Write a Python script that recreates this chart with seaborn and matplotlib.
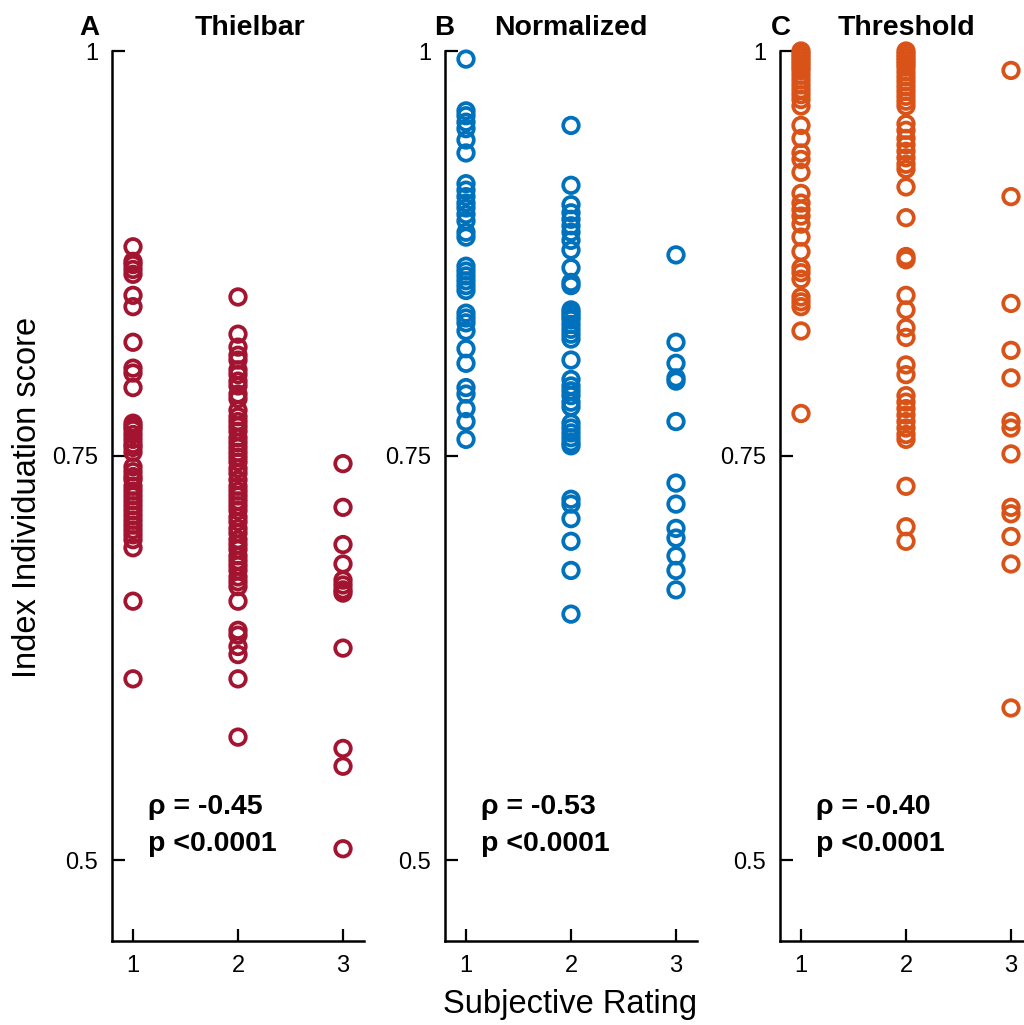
import numpy as np
import pandas as pd
import matplotlib
matplotlib.use('Agg')
import matplotlib.pyplot as plt
import seaborn as sns

# ── data ─────────────────────────────────────────────────────────────────────
thielbar_r1 = [0.879, 0.870, 0.868, 0.865, 0.862, 0.849, 0.842, 0.820, 0.804, 0.801,
               0.792, 0.770, 0.768, 0.766, 0.763, 0.760, 0.757, 0.755, 0.752, 0.743,
               0.740, 0.737, 0.735, 0.731, 0.728, 0.725, 0.722, 0.719, 0.716, 0.713,
               0.710, 0.707, 0.704, 0.701, 0.698, 0.693, 0.660, 0.612]
thielbar_r2 = [0.848, 0.825, 0.817, 0.812, 0.809, 0.803, 0.800, 0.796, 0.793, 0.788,
               0.785, 0.778, 0.774, 0.771, 0.768, 0.765, 0.761, 0.758, 0.755, 0.752,
               0.749, 0.746, 0.742, 0.739, 0.735, 0.731, 0.728, 0.725, 0.722, 0.719,
               0.716, 0.712, 0.709, 0.705, 0.702, 0.698, 0.695, 0.692, 0.688, 0.685,
               0.682, 0.679, 0.675, 0.672, 0.669, 0.660, 0.642, 0.639, 0.632, 0.627,
               0.612, 0.576]
thielbar_r3 = [0.745, 0.718, 0.695, 0.683, 0.673, 0.670, 0.667, 0.665, 0.631, 0.569,
               0.558, 0.507]

normalized_r1 = [0.995, 0.963, 0.960, 0.956, 0.952, 0.945, 0.937, 0.918, 0.914, 0.910,
                 0.906, 0.903, 0.899, 0.895, 0.888, 0.885, 0.867, 0.864, 0.861, 0.858,
                 0.855, 0.852, 0.838, 0.835, 0.832, 0.827, 0.816, 0.807, 0.792, 0.788,
                 0.779, 0.771, 0.760]
normalized_r2 = [0.954, 0.917, 0.905, 0.900, 0.896, 0.892, 0.888, 0.883, 0.877, 0.866,
                 0.857, 0.855, 0.840, 0.838, 0.836, 0.834, 0.831, 0.828, 0.825, 0.822,
                 0.809, 0.797, 0.793, 0.790, 0.787, 0.783, 0.780, 0.770, 0.767, 0.764,
                 0.761, 0.758, 0.756, 0.723, 0.720, 0.711, 0.697, 0.679, 0.652]
normalized_r3 = [0.874, 0.820, 0.807, 0.798, 0.796, 0.771, 0.733, 0.720, 0.705, 0.699,
                 0.688, 0.679, 0.667]

threshold_r1 = [1.000, 0.998, 0.996, 0.994, 0.992, 0.990, 0.988, 0.985, 0.982, 0.979,
                0.976, 0.973, 0.970, 0.966, 0.954, 0.946, 0.937, 0.933, 0.925, 0.912,
                0.906, 0.902, 0.898, 0.893, 0.885, 0.876, 0.866, 0.863, 0.859, 0.848,
                0.845, 0.842, 0.827, 0.776]
threshold_r2 = [1.000, 0.998, 0.996, 0.994, 0.992, 0.990, 0.987, 0.984, 0.981, 0.978,
                0.975, 0.972, 0.969, 0.966, 0.955, 0.951, 0.946, 0.942, 0.938, 0.934,
                0.930, 0.927, 0.916, 0.897, 0.873, 0.871, 0.849, 0.840, 0.829, 0.823,
                0.806, 0.800, 0.787, 0.783, 0.779, 0.775, 0.771, 0.767, 0.763, 0.760,
                0.731, 0.706, 0.697]
threshold_r3 = [0.988, 0.910, 0.844, 0.815, 0.798, 0.771, 0.767, 0.751, 0.718, 0.714,
                0.700, 0.683, 0.594]

methods = ['Thielbar', 'Normalized', 'Threshold']
panel_letters = ['A', 'B', 'C']
rho_text = ['ρ = -0.45', 'ρ = -0.53', 'ρ = -0.40']
p_text = ['p <0.0001', 'p <0.0001', 'p <0.0001']
colors = ['#A2142F', '#0072BD', '#D95319']

series = {
    'Thielbar': [thielbar_r1, thielbar_r2, thielbar_r3],
    'Normalized': [normalized_r1, normalized_r2, normalized_r3],
    'Threshold': [threshold_r1, threshold_r2, threshold_r3],
}
rows = []
for m in methods:
    for rating, vals in zip([1, 2, 3], series[m]):
        rows += [{'method': m, 'rating': rating, 'score': v} for v in vals]
df = pd.DataFrame(rows)

# ── figure ───────────────────────────────────────────────────────────────────
sns.set_style('ticks')
plt.rcParams['font.family'] = ['Liberation Sans', 'DejaVu Sans']
plt.rcParams['text.color'] = 'black'
plt.rcParams['axes.labelcolor'] = 'black'

fig = plt.figure(figsize=(10.24, 10.25), dpi=100)
lefts = [112 / 1024, 445 / 1024, 780 / 1024]
bottom, height, width = 84 / 1025, 890 / 1025, 252 / 1024
letter_x = [79 / 1024, 434 / 1024, 771 / 1024]
title_x = [250 / 1024, 571 / 1024, 906 / 1024]
top_y = 1 - 28 / 1025

for i, m in enumerate(methods):
    ax = fig.add_axes([lefts[i], bottom, width, height])
    sub = df[df['method'] == m]
    sns.scatterplot(data=sub, x='rating', y='score', ax=ax, marker='o', s=125,
                    facecolors='none', edgecolor=colors[i], linewidth=2.7,
                    clip_on=False, legend=False)
    ax.set_xlim(0.8, 3.2)
    ax.set_ylim(0.45, 1.0)
    ax.set_xticks([1, 2, 3])
    ax.set_xticklabels(['1', '2', '3'])
    ax.set_yticks([0.5, 0.75, 1.0])
    ax.set_yticklabels(['0.5', '0.75', '1'])
    ax.tick_params(direction='in', length=9, width=1.6, labelsize=17, pad=10,
                   colors='black')
    for side in ['top', 'right']:
        ax.spines[side].set_visible(False)
    for side in ['left', 'bottom']:
        ax.spines[side].set_linewidth(1.8)
        ax.spines[side].set_color('black')
    ax.set_xlabel('')
    ax.set_ylabel('')
    fig.text(title_x[i], top_y, m, ha='center', va='center',
             fontsize=20.5, fontweight='bold')
    fig.text(letter_x[i], top_y, panel_letters[i], ha='left', va='center',
             fontsize=20, fontweight='bold')
    ax.text(1.14, 0.533, rho_text[i], ha='left', va='center', fontsize=20.5,
            fontweight='bold')
    ax.text(1.14, 0.510, p_text[i], ha='left', va='center', fontsize=20.5,
            fontweight='bold')

fig.text(28 / 1024, 1 - 497 / 1025, 'Index Individuation score', rotation=90,
         ha='center', va='center', fontsize=23.5)
fig.text(570 / 1024, 1 - 1005 / 1025, 'Subjective Rating', ha='center', va='center',
         fontsize=23.5)

fig.savefig('out.png', dpi=100)
